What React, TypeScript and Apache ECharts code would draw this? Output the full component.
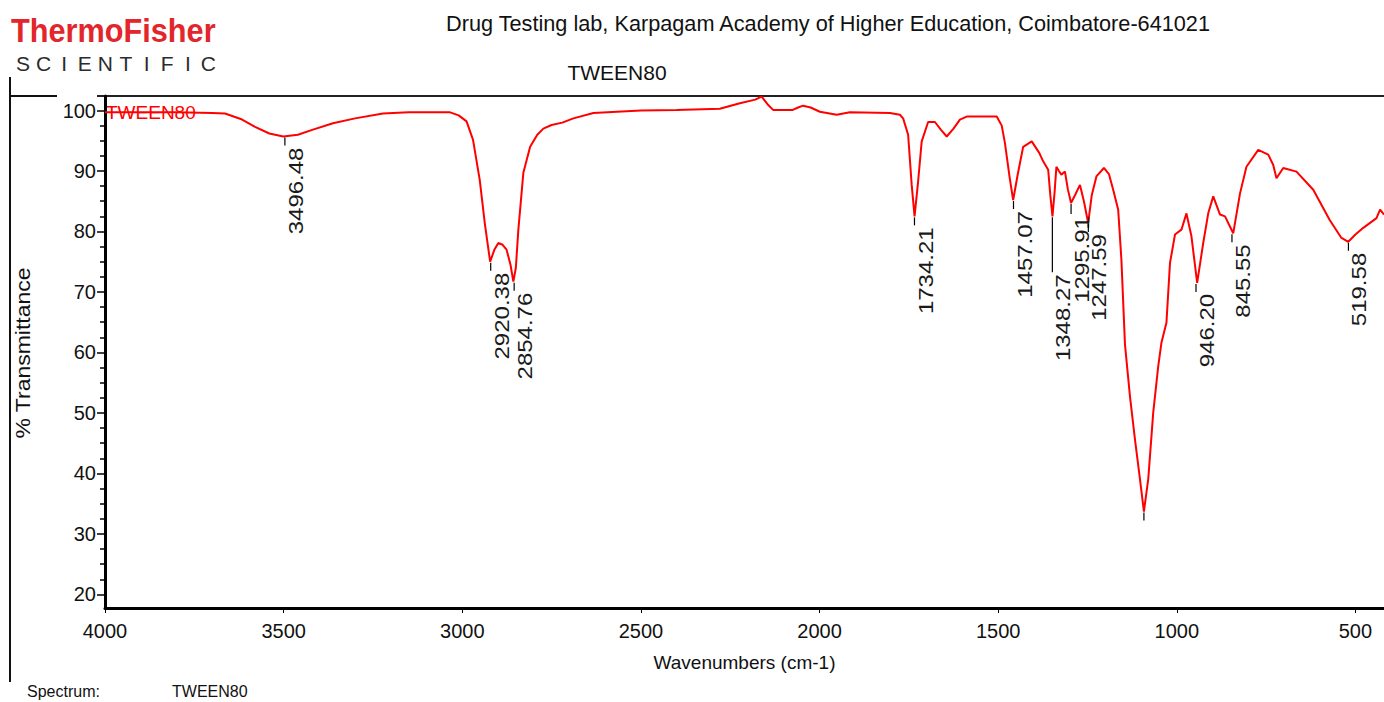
import React, { useEffect, useRef } from "react";
import * as echarts from "echarts";

// ---- data ----
const wavenumbers = [
  4000, 3900, 3800, 3700, 3664, 3620, 3580, 3540, 3501, 3460, 3420, 3362, 3300, 3222, 3150, 3034,
  3010, 2988, 2970, 2951, 2937, 2922, 2910, 2899, 2887, 2876, 2865, 2857, 2850, 2843, 2829, 2810,
  2790, 2773, 2750, 2720, 2689, 2633, 2500, 2400, 2279, 2223, 2180, 2162, 2145, 2130, 2075, 2060,
  2046, 2025, 1999, 1952, 1915, 1803, 1775, 1766, 1752, 1742, 1734, 1724, 1714, 1696, 1677, 1660,
  1644, 1625, 1607, 1588, 1504, 1490, 1481, 1468, 1458, 1445, 1430, 1406, 1385, 1374, 1360, 1354,
  1348, 1342, 1337, 1330, 1323, 1313, 1305, 1296, 1285, 1271, 1260, 1248, 1238, 1225, 1204, 1190,
  1178, 1164, 1155, 1145, 1131, 1117, 1103, 1092, 1080, 1066, 1052, 1043, 1029, 1019, 1005, 987,
  973, 959, 943, 926, 912, 898, 879, 865, 842, 823, 805, 772, 744, 730, 721, 702,
  665, 618, 572, 540, 520, 500, 478, 441, 431, 420,
];
const transmittance = [
  99.7, 99.7, 99.7, 99.6, 99.5, 98.6, 97.3, 96.2, 95.7, 96.0, 96.8, 97.9, 98.7, 99.5, 99.7, 99.7,
  99.2, 98.2, 95.2, 88.5, 81.4, 75.0, 77.0, 78.1, 77.8, 77.0, 74.5, 71.7, 74.0, 80.3, 89.7, 94.0,
  96.0, 97.0, 97.6, 98.0, 98.7, 99.6, 100.0, 100.1, 100.3, 101.2, 101.8, 102.3, 101.0, 100.1, 100.1, 100.5,
  100.8, 100.5, 99.8, 99.3, 99.7, 99.6, 99.3, 98.7, 96.0, 87.7, 82.5, 88.3, 94.9, 98.1, 98.1, 96.8,
  95.7, 97.0, 98.5, 99.0, 99.0, 97.5, 94.6, 89.0, 85.2, 89.5, 94.0, 94.9, 93.0, 91.6, 90.2, 86.0,
  82.5, 86.5, 90.7, 90.0, 89.4, 89.9, 87.0, 84.7, 86.0, 87.7, 85.0, 81.4, 86.0, 89.1, 90.5, 89.5,
  86.9, 83.6, 75.3, 61.3, 52.7, 45.6, 39.0, 33.7, 39.0, 50.0, 57.7, 61.6, 64.9, 74.8, 79.5, 80.3,
  83.0, 79.2, 71.5, 78.1, 83.0, 85.8, 82.8, 82.5, 79.7, 86.3, 90.7, 93.5, 92.7, 91.0, 88.8, 90.5,
  89.9, 86.9, 81.9, 79.0, 78.3, 79.5, 80.6, 82.2, 83.6, 82.8,
];

const peakWavenumbers = [3496.48, 2920.38, 2854.76, 1734.21, 1457.07, 1348.27, 1295.91, 1247.59, 946.2, 845.55, 519.58];
const peakTransmittance = [95.7, 75.0, 71.7, 82.5, 85.2, 82.5, 84.7, 81.4, 71.5, 79.7, 78.3];
const unlabeledPeakWavenumbers = [1092];
const unlabeledPeakTransmittance = [33.7];

const xTickValues = [4000, 3500, 3000, 2500, 2000, 1500, 1000, 500];
const yTickValues = [20, 30, 40, 50, 60, 70, 80, 90, 100];
const yMinorTickValues = [
  22.5, 25, 27.5, 32.5, 35, 37.5, 42.5, 45, 47.5, 52.5, 55, 57.5, 62.5, 65, 67.5,
  72.5, 75, 77.5, 82.5, 85, 87.5, 92.5, 95, 97.5,
];

const titleText = "Drug Testing lab, Karpagam Academy of Higher Education, Coimbatore-641021";
const sampleName = "TWEEN80";

const FONT = "'Liberation Sans', Arial, Helvetica, sans-serif";

export default function App() {
  const ref = useRef<HTMLDivElement>(null);

  useEffect(() => {
    if (!ref.current) return;
    const chart = echarts.init(ref.current, null, { renderer: "svg" });

    const spectrum = wavenumbers.map((w, i) => [w, transmittance[i]]);
    const peaks = peakWavenumbers.map((w, i) => [w, peakTransmittance[i], w.toFixed(2)]);
    const extraPeaks = unlabeledPeakWavenumbers.map((w, i) => [w, unlabeledPeakTransmittance[i], ""]);
    const allPeaks = [...peaks, ...extraPeaks];
    const leaderLen = (label: string) => (label === "1348.27" ? 56 : label === "1295.91" ? 11 : 9);

    const scientific = "SCIENTIFIC".split("").map((ch, i) => ({
      type: "text",
      x: 23 + i * 20.6,
      y: 63,
      style: { text: ch, fontSize: 21, fontFamily: FONT, fill: "#2b2b2b", align: "center", verticalAlign: "middle" },
    }));

    const option: any = {
      animation: false,
      backgroundColor: "#ffffff",
      grid: { left: 105, right: 0, top: 96, bottom: 94, containLabel: false },
      xAxis: {
        type: "value",
        inverse: true,
        min: 420,
        max: 4000,
        name: "Wavenumbers (cm-1)",
        nameLocation: "middle",
        nameGap: 45,
        nameTextStyle: { fontSize: 19, fontFamily: FONT, color: "#111" },
        axisLine: { show: true, onZero: false, lineStyle: { color: "#000", width: 3 } },
        axisTick: { show: true, length: 5, customValues: xTickValues, lineStyle: { color: "#000", width: 1 } },
        axisLabel: {
          customValues: xTickValues,
          formatter: (v: number) => String(v),
          fontSize: 20,
          fontFamily: FONT,
          color: "#111",
          margin: 13,
        },
        splitLine: { show: false },
      },
      yAxis: [
        {
          type: "value",
          min: 17.75,
          max: 102.4,
          axisLine: { show: true, onZero: false, lineStyle: { color: "#000", width: 3 } },
          axisTick: { show: true, length: 8, customValues: yTickValues, lineStyle: { color: "#000", width: 1.5 } },
          axisLabel: {
            customValues: yTickValues,
            formatter: (v: number) => String(v),
            fontSize: 20,
            fontFamily: FONT,
            color: "#111",
            margin: 9,
          },
          splitLine: { show: false },
        },
        {
          type: "value",
          position: "left",
          min: 17.75,
          max: 102.4,
          axisLine: { show: false },
          axisTick: { show: true, length: 5, customValues: yMinorTickValues, lineStyle: { color: "#000", width: 1.5 } },
          axisLabel: { show: false },
          splitLine: { show: false },
        },
      ],
      graphic: [
        // outer frame lines
        { type: "line", shape: { x1: 10, y1: 77, x2: 10, y2: 682 }, style: { stroke: "#111", lineWidth: 2 } },
        { type: "line", shape: { x1: 10, y1: 96, x2: 57, y2: 96 }, style: { stroke: "#111", lineWidth: 2 } },
        { type: "line", shape: { x1: 97, y1: 96, x2: 1384, y2: 96 }, style: { stroke: "#222", lineWidth: 2 } },
        // logo
        {
          type: "text",
          x: 11,
          y: 31,
          scaleX: 0.93,
          style: { text: "ThermoFisher", fontSize: 33, fontWeight: "bold", fontFamily: FONT, fill: "#e3262b", verticalAlign: "middle" },
        },
        ...scientific,
        // titles
        {
          type: "text",
          x: 828,
          y: 23,
          style: { text: titleText, fontSize: 21.7, fontFamily: FONT, fill: "#111", align: "center", verticalAlign: "middle" },
        },
        {
          type: "text",
          x: 617,
          y: 72,
          style: { text: sampleName, fontSize: 21, fontFamily: FONT, fill: "#111", align: "center", verticalAlign: "middle" },
        },
        // in-plot sample tag
        {
          type: "text",
          x: 106,
          y: 112,
          style: { text: sampleName, fontSize: 19, fontFamily: FONT, fill: "#ff0000", verticalAlign: "middle" },
        },
        // y axis title
        {
          type: "text",
          x: 14,
          y: 353,
          rotation: Math.PI / 2,
          scaleY: 0.85,
          style: { text: "% Transmittance", fontSize: 23, fontFamily: FONT, fill: "#111", align: "center", verticalAlign: "top" },
        },
        // footer
        { type: "text", x: 27, y: 691, style: { text: "Spectrum:", fontSize: 16, fontFamily: FONT, fill: "#111", verticalAlign: "middle" } },
        { type: "text", x: 172, y: 691, style: { text: sampleName, fontSize: 16, fontFamily: FONT, fill: "#111", verticalAlign: "middle" } },
      ],
      series: [
        {
          type: "line",
          name: sampleName,
          data: spectrum,
          showSymbol: false,
          symbol: "none",
          lineStyle: { color: "#ff0000", width: 2 },
          clip: true,
          z: 3,
        },
        {
          type: "custom",
          name: "peaks",
          data: allPeaks,
          encode: { x: 0, y: 1 },
          clip: false,
          z: 4,
          renderItem: (params: any, api: any) => {
            const item = allPeaks[params.dataIndex];
            const label = item[2] as string;
            const p = api.coord([api.value(0), api.value(1)]);
            const len = leaderLen(label);
            const children: any[] = [
              {
                type: "line",
                shape: { x1: p[0], y1: p[1] + 1, x2: p[0], y2: p[1] + len },
                style: { stroke: "#000", lineWidth: 1.2 },
              },
            ];
            if (label) {
              children.push({
                type: "text",
                x: p[0] + 1,
                y: p[1] + len + 2,
                rotation: Math.PI / 2,
                scaleY: 0.85,
                style: {
                  text: label,
                  fontSize: 24,
                  fontFamily: FONT,
                  fill: "#1a1a1a",
                  align: "right",
                  verticalAlign: "top",
                },
              });
            }
            return { type: "group", children };
          },
        },
      ],
    };

    chart.setOption(option);
    return () => chart.dispose();
  }, []);

  return (
    <div
      ref={ref}
      style={{ position: "fixed", left: 0, top: 0, width: 1384, height: 702, background: "#fff" }}
    />
  );
}
